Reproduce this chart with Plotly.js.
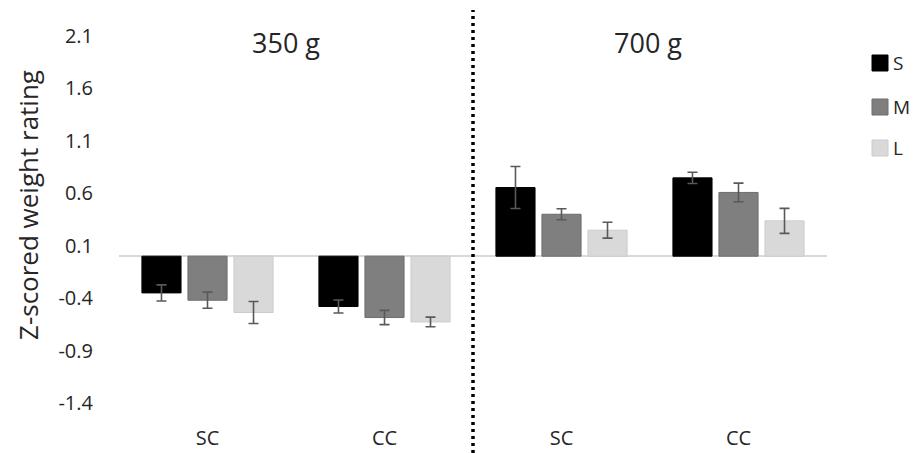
<!DOCTYPE html>
<html>
<head>
<meta charset="utf-8">
<script src="https://cdn.plot.ly/plotly-3.0.1.min.js"></script>
<style>html,body{margin:0;padding:0;background:#fff;}#chart{width:915px;height:453px;}</style>
</head>
<body>
<div id="chart"></div>
<script>
// ---- data ----
const categories = ['SC', 'CC', 'SC', 'CC'];
const groupTitles = ['350 g', '700 g'];
const seriesNames = ['S', 'M', 'L'];
const valuesS = [-0.35, -0.48, 0.655, 0.747];
const valuesM = [-0.42, -0.585, 0.40, 0.608];
const valuesL = [-0.537, -0.627, 0.248, 0.337];
const errorS = [0.077, 0.062, 0.20, 0.054];
const errorM = [0.077, 0.068, 0.052, 0.089];
const errorL = [0.105, 0.046, 0.076, 0.119];
const yTickLabels = ['-1.4', '-0.9', '-0.4', '0.1', '0.6', '1.1', '1.6', '2.1'];

// ---- styling ----
const FONT = 'Open Sans, Liberation Sans, sans-serif';
const TXT = '#262626';
const colors = ['#000000', '#7f7f7f', '#d9d9d9'];
const lineColors = ['#000000', '#6e6e6e', '#cccccc'];
const xIdx = categories.map((c, i) => i);
const seriesVals = [valuesS, valuesM, valuesL];
const seriesErr = [errorS, errorM, errorL];

const W = 915, H = 453;
const M = {l: 119, r: 88, t: 36, b: 50};
const PW = W - M.l - M.r, PH = H - M.t - M.b;
const px = x => (x - M.l) / PW;        // pixel -> paper x
const py = y => (H - M.b - y) / PH;    // pixel -> paper y

const traces = seriesNames.map((name, k) => ({
  type: 'bar',
  name: name,
  x: xIdx,
  y: seriesVals[k],
  marker: {color: colors[k], line: {color: lineColors[k], width: 1}},
  error_y: {type: 'data', array: seriesErr[k], visible: true, color: '#595959', thickness: 1.6, width: 5},
  hoverinfo: 'skip',
  showlegend: false
}));

// manual legend (squares + labels) placed in the right margin
const legendRows = [63, 107, 148];
const legendShapes = seriesNames.map((n, k) => ({
  type: 'rect', xref: 'paper', yref: 'paper',
  x0: px(872), x1: px(888), y0: py(legendRows[k] + 8), y1: py(legendRows[k] - 8),
  fillcolor: colors[k], line: {color: lineColors[k], width: 1}
}));
const legendTexts = seriesNames.map((n, k) => ({
  text: n, xref: 'paper', yref: 'paper', x: px(891), y: py(legendRows[k]),
  xanchor: 'left', yanchor: 'middle', showarrow: false,
  font: {family: FONT, size: 19, color: TXT}
}));

const layout = {
  width: W, height: H,
  margin: M,
  paper_bgcolor: '#ffffff', plot_bgcolor: '#ffffff',
  font: {family: FONT, color: TXT, size: 19},
  barmode: 'group',
  bargap: 0.22,
  bargroupgap: 0.15,
  showlegend: false,
  xaxis: {
    range: [-0.5, categories.length - 0.5],
    tickmode: 'array', tickvals: xIdx, ticktext: categories,
    showgrid: false, zeroline: false, showline: false,
    ticks: 'outside', ticklen: 17, tickcolor: 'rgba(0,0,0,0)',
    tickfont: {family: FONT, size: 20, color: TXT},
    fixedrange: true
  },
  yaxis: {
    range: [-1.4, 2.1],
    tickmode: 'array', tickvals: yTickLabels.map(Number), ticktext: yTickLabels,
    showgrid: false, showline: false,
    zeroline: true, zerolinecolor: '#d9d9d9', zerolinewidth: 1.5,
    ticks: 'outside', ticklen: 21, tickcolor: 'rgba(0,0,0,0)',
    tickfont: {family: FONT, size: 20, color: TXT},
    fixedrange: true
  },
  shapes: [{
    type: 'line', xref: 'x', yref: 'paper',
    x0: (categories.length - 1) / 2, x1: (categories.length - 1) / 2,
    y0: py(453), y1: py(10),
    line: {color: '#000000', width: 3.5, dash: '3px,4px'}
  }].concat(legendShapes),
  annotations: [
    {text: groupTitles[0], xref: 'paper', yref: 'paper', x: px(286), y: py(42),
     xanchor: 'center', yanchor: 'middle', showarrow: false,
     font: {family: FONT, size: 27, color: TXT}},
    {text: groupTitles[1], xref: 'paper', yref: 'paper', x: px(648), y: py(42),
     xanchor: 'center', yanchor: 'middle', showarrow: false,
     font: {family: FONT, size: 27, color: TXT}},
    {text: 'Z-scored weight rating', xref: 'paper', yref: 'paper', x: px(28), y: py(205),
     xanchor: 'center', yanchor: 'middle', textangle: -90, showarrow: false,
     font: {family: FONT, size: 26, color: TXT}}
  ].concat(legendTexts)
};

Plotly.newPlot('chart', traces, layout, {displayModeBar: false, staticPlot: true});
</script>
</body>
</html>
